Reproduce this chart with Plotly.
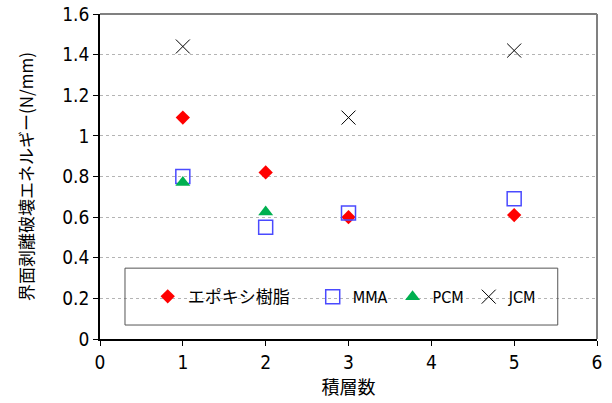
import plotly.graph_objects as go

layers = [1, 2, 3, 5]
epoxy = [1.09, 0.82, 0.60, 0.61]
mma = [0.80, 0.55, 0.62, 0.69]
pcm_x = [1, 2]
pcm = [0.77, 0.625]
jcm_x = [1, 3, 5]
jcm = [1.44, 1.09, 1.42]

names = ["エポキシ樹脂", "MMA", "PCM", "JCM"]
x_title = "積層数"
y_title = "界面剥離破壊エネルギー(N/mm)"

FONT = "Noto Sans CJK JP"
NUMFONT = "Liberation Sans Narrow, DejaVu Sans Condensed, Noto Sans CJK JP"

fig = go.Figure()
fig.add_trace(go.Scatter(x=layers, y=epoxy, mode="markers", name=names[0], legend="legend",
                         marker=dict(symbol="diamond", size=11, color="#ff0000")))
fig.add_trace(go.Scatter(x=layers, y=mma, mode="markers", name=names[1], legend="legend2",
                         marker=dict(symbol="square-open", size=14, color="#4a4aff",
                                     line=dict(width=1.5, color="#4a4aff"))))
fig.add_trace(go.Scatter(x=pcm_x, y=pcm, mode="markers", name=names[2], legend="legend2",
                         marker=dict(symbol="triangle-up", size=13, color="#00b050")))
fig.add_trace(go.Scatter(x=jcm_x, y=jcm, mode="markers", name=names[3], legend="legend2",
                         marker=dict(symbol="x-thin-open", size=14, color="#000000",
                                     line=dict(width=1, color="#000000"))))

leg_common = dict(orientation="h", yanchor="middle", xanchor="left", y=0.13,
                  bgcolor="rgba(0,0,0,0)", borderwidth=0, itemsizing="trace")

fig.update_layout(
    width=612, height=403,
    margin=dict(l=100, r=15, t=14, b=64, autoexpand=False),
    paper_bgcolor="white", plot_bgcolor="white",
    font=dict(family=FONT, size=16, color="black"),
    showlegend=True,
    legend=dict(x=0.096, font=dict(family=NUMFONT, size=17, color="black"), **leg_common),
    legend2=dict(x=0.428, font=dict(family=NUMFONT, size=16, color="black"), **leg_common),
    xaxis=dict(range=[0, 6], dtick=1, showgrid=False, zeroline=False,
               showline=True, linecolor="black", linewidth=1.5,
               ticks="outside", ticklen=5, tickcolor="black", automargin=False,
               title=dict(text=x_title, font=dict(family=FONT, size=18), standoff=4),
               tickfont=dict(family=NUMFONT, size=19)),
    yaxis=dict(range=[0, 1.6], dtick=0.2, tickformat="~g", showgrid=True,
               gridcolor="#b4b4b4", griddash="dot", gridwidth=1, zeroline=False,
               showline=True, linecolor="black", linewidth=1.5,
               ticks="outside", ticklen=5, tickcolor="black", automargin=False,
               title=dict(text=y_title, font=dict(family=FONT, size=17), standoff=24),
               tickfont=dict(family=NUMFONT, size=19)),
    shapes=[
        dict(type="line", xref="paper", yref="paper", x0=0, x1=1, y0=1, y1=1,
             line=dict(color="#808080", width=2)),
        dict(type="line", xref="paper", yref="paper", x0=1, x1=1, y0=0, y1=1,
             line=dict(color="#808080", width=2)),
        dict(type="rect", xref="paper", yref="paper", x0=0.0503, x1=0.921,
             y0=0.043, y1=0.218, line=dict(color="#555555", width=1),
             fillcolor="rgba(0,0,0,0)"),
    ],
)

fig.write_html("out.html", config={"displayModeBar": False},
               post_script="document.body.style.margin='0';")
